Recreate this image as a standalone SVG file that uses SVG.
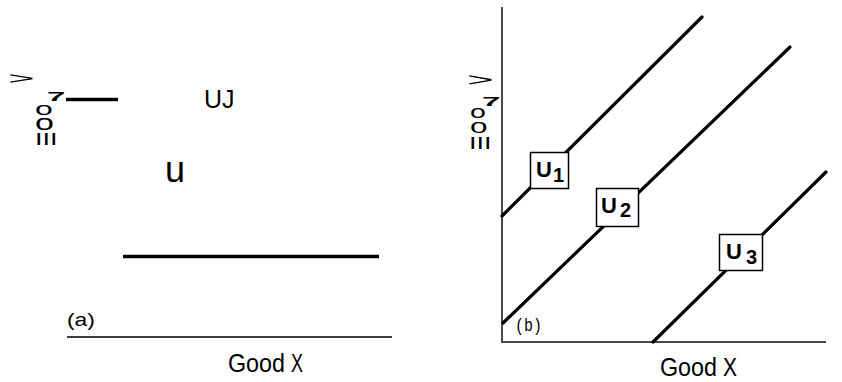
<svg xmlns="http://www.w3.org/2000/svg" width="842" height="382" viewBox="0 0 842 382">
<style>
.sans{font-family:"Liberation Sans",Arial,sans-serif;fill:#000}
.mono{font-family:"Liberation Mono","Courier New",monospace;fill:#000}
.curve{stroke:#000;stroke-width:3.2;fill:none;stroke-linecap:round}
.axis{stroke:#4a4a4a;stroke-width:2;fill:none}
.box{fill:#fff;stroke:#000;stroke-width:1.5}
.lbl{font-family:"Liberation Sans",Arial,sans-serif;font-weight:bold;fill:#000}
</style>
<rect width="842" height="382" fill="#fff"/>

<!-- Panel (a) -->
<g id="panel-a">
  <g id="a-ylabel">
    <g transform="translate(8,84) scale(2.4,0.9)"><text class="sans" x="0" y="0" font-size="19">&gt;</text></g>
    <g transform="translate(47,101) scale(2.2,0.8)"><text class="sans" x="0" y="0" font-size="15" font-weight="bold">7</text></g>
    <g transform="translate(35,115) scale(1.6,0.95)"><text class="sans" x="0" y="0" font-size="20">o</text></g>
    <g transform="translate(35,130) scale(1.55,1)"><text class="sans" x="0" y="0" font-size="22">o</text></g>
    <g transform="translate(35,145) scale(1.6,0.95)"><text class="sans" x="0" y="0" font-size="17">III</text></g>
  </g>
  <g id="a-line-top"><line x1="66" y1="99.5" x2="118" y2="99.5" stroke="#000" stroke-width="3.5"/></g>
  <g id="a-UJ"><text class="sans" x="204" y="108" font-size="25">UJ</text></g>
  <g id="a-u"><text class="sans" x="165" y="182" font-size="36">u</text></g>
  <g id="a-line-bottom"><line x1="123" y1="256.5" x2="379" y2="256.5" stroke="#000" stroke-width="3.5"/></g>
  <g id="a-tag"><text class="sans" x="67" y="326" font-size="19" textLength="28" lengthAdjust="spacingAndGlyphs">(a)</text></g>
  <g id="a-axis"><line x1="67" y1="337" x2="392" y2="337" stroke="#000" stroke-width="1.6"/></g>
  <g id="a-xlabel">
    <text class="sans" x="228" y="372" font-size="26" textLength="57" lengthAdjust="spacingAndGlyphs">Good</text>
    <text class="sans" x="291" y="372" font-size="26" textLength="12" lengthAdjust="spacingAndGlyphs">X</text>
  </g>
</g>

<!-- Panel (b) -->
<g id="panel-b">
  <g id="b-axes">
    <line class="axis" x1="502" y1="7" x2="502" y2="343"/>
    <line class="axis" x1="501" y1="342" x2="826" y2="342"/>
  </g>
  <g id="b-ylabel">
    <g transform="translate(467,86) scale(2.4,0.95)"><text class="sans" x="0" y="0" font-size="19">&gt;</text></g>
    <g transform="translate(482,106) scale(2.2,0.8)"><text class="sans" x="0" y="0" font-size="15" font-weight="bold">7</text></g>
    <g transform="translate(470,118) scale(1.5,0.95)"><text class="sans" x="0" y="0" font-size="19">o</text></g>
    <g transform="translate(470,133) scale(1.5,1)"><text class="sans" x="0" y="0" font-size="21">o</text></g>
    <g transform="translate(469,149) scale(1.6,0.95)"><text class="sans" x="0" y="0" font-size="17">III</text></g>
  </g>
  <g id="connectors">
    <line class="curve" x1="502" y1="216" x2="702" y2="17"/>
    <line class="curve" x1="503" y1="323" x2="790" y2="47"/>
    <line class="curve" x1="653" y1="342" x2="826" y2="172"/>
  </g>
  <g id="U1">
    <rect class="box" x="530.5" y="152.5" width="38" height="36"/>
    <text class="lbl" x="536" y="177" font-size="22">U</text>
    <text class="lbl" x="553" y="182" font-size="20">1</text>
  </g>
  <g id="U2">
    <rect class="box" x="596.5" y="188.5" width="42" height="38"/>
    <text class="lbl" x="601" y="213" font-size="22">U</text>
    <text class="lbl" x="620" y="217" font-size="20">2</text>
  </g>
  <g id="U3">
    <rect class="box" x="719.5" y="234.5" width="43" height="36"/>
    <text class="lbl" x="726" y="259" font-size="22">U</text>
    <text class="lbl" x="746" y="264" font-size="20">3</text>
  </g>
  <g id="b-tag"><text class="mono" x="515" y="331" font-size="18" textLength="27" lengthAdjust="spacingAndGlyphs">(b)</text></g>
  <g id="b-xlabel">
    <text class="sans" x="660" y="376" font-size="26" textLength="57" lengthAdjust="spacingAndGlyphs">Good</text>
    <text class="sans" x="723" y="376" font-size="26" textLength="14" lengthAdjust="spacingAndGlyphs">X</text>
  </g>
</g>
</svg>
